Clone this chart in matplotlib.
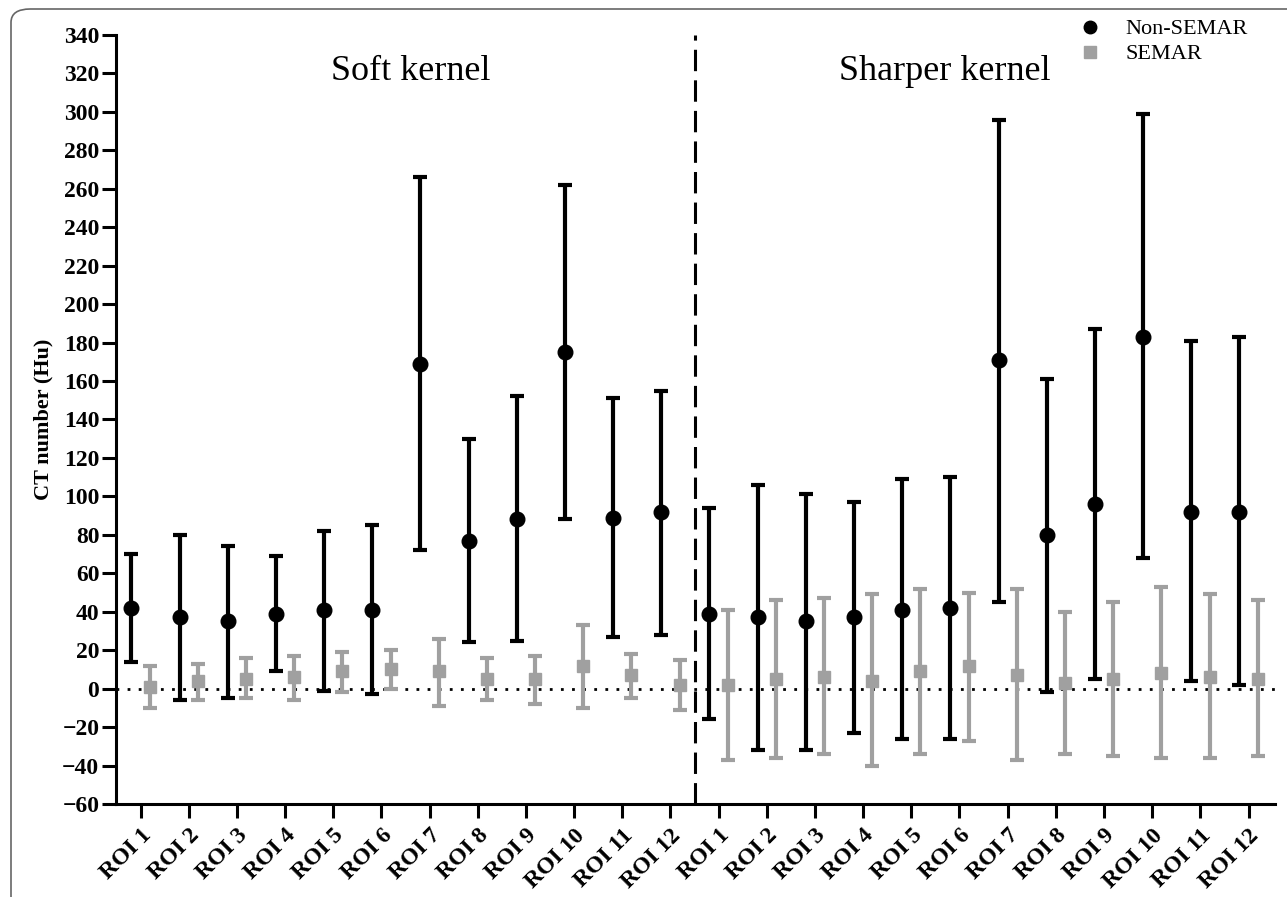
import numpy as np
import matplotlib
matplotlib.use("Agg")
import matplotlib.pyplot as plt
from matplotlib.patches import FancyBboxPatch
from matplotlib.lines import Line2D

plt.rcParams['font.family'] = ['Liberation Serif', 'DejaVu Serif']

rois = ['ROI %d' % i for i in range(1, 13)]
labels = rois + rois

# soft kernel then sharper kernel: mean, upper end, lower end
non_mean = [42, 37, 35, 39, 41, 41, 169, 77, 88, 175, 89, 92,
            39, 37, 35, 37, 41, 42, 171, 80, 96, 183, 92, 92]
non_hi = [70, 80, 74, 69, 82, 85, 266, 130, 152, 262, 151, 155,
          94, 106, 101, 97, 109, 110, 296, 161, 187, 299, 181, 183]
non_lo = [14, -6, -5, 9, -1, -3, 72, 24, 25, 88, 27, 28,
          -16, -32, -32, -23, -26, -26, 45, -2, 5, 68, 4, 2]

semar_mean = [1, 4, 5, 6, 9, 10, 9, 5, 5, 12, 7, 2,
              2, 5, 6, 4, 9, 12, 7, 3, 5, 8, 6, 5]
semar_hi = [12, 13, 16, 17, 19, 20, 26, 16, 17, 33, 18, 15,
            41, 46, 47, 49, 52, 50, 52, 40, 45, 53, 49, 46]
semar_lo = [-10, -6, -5, -6, -2, 0, -9, -6, -8, -10, -5, -11,
            -37, -36, -34, -40, -34, -27, -37, -34, -35, -36, -36, -35]

x = np.arange(len(labels))
gray = '#a0a0a0'

fig = plt.figure(figsize=(12.87, 8.97), dpi=100)
ax = fig.add_axes([0.0901, 0.1037, 0.9006, 0.8573])

# rounded frame, only top and left edges fall inside the picture
frame = FancyBboxPatch((11 / 1287, -0.5), 1.2, 1.5 - 9 / 897,
                       boxstyle="round,pad=0,rounding_size=0.015",
                       transform=fig.transFigure, fill=False,
                       edgecolor='#666666', linewidth=1.2)
fig.patches.append(frame)

nm = np.array(non_mean)
sm = np.array(semar_mean)
ax.errorbar(x - 0.19, nm, yerr=[nm - np.array(non_lo), np.array(non_hi) - nm],
            fmt='o', color='black', ms=10.5, elinewidth=3, capsize=5, capthick=3,
            zorder=3)
ax.errorbar(x + 0.19, sm, yerr=[sm - np.array(semar_lo), np.array(semar_hi) - sm],
            fmt='s', color=gray, ms=9, elinewidth=3, capsize=5, capthick=3,
            zorder=3)

ax.axhline(0, color='black', linestyle=(0, (1, 3)), linewidth=2, zorder=1)
ax.axvline(11.5, color='black', linestyle=(0, (7, 3)), linewidth=2.2, zorder=1)

ax.set_xlim(-0.51, 23.55)
ax.set_ylim(-60, 340)
ax.set_yticks(np.arange(-60, 341, 20))
ax.set_xticks(x)
ax.set_xticklabels(labels, rotation=45, ha='right', rotation_mode='anchor',
                   fontsize=17, fontweight='bold')
for t in ax.get_yticklabels():
    t.set_fontsize(17)
    t.set_fontweight('bold')
ax.tick_params(axis='both', width=2.2, length=10, pad=2)
ax.tick_params(axis='x', pad=5)

for s in ['top', 'right']:
    ax.spines[s].set_visible(False)
for s in ['left', 'bottom']:
    ax.spines[s].set_linewidth(2.2)

ax.set_ylabel('CT number (Hu)', fontsize=16, fontweight='bold', labelpad=6)

ax.text(5.6, 321, 'Soft kernel', fontsize=26, ha='center', va='center')
ax.text(16.7, 321, 'Sharper kernel', fontsize=26, ha='center', va='center')

handles = [Line2D([], [], marker='o', color='black', linestyle='none', ms=9),
           Line2D([], [], marker='s', color=gray, linestyle='none', ms=8)]
ax.legend(handles, ['Non-SEMAR', 'SEMAR'], loc='upper left',
          bbox_to_anchor=(1068 / 1287, 1 - 10 / 897), bbox_transform=fig.transFigure,
          frameon=False, fontsize=16, handlelength=1.2, handletextpad=1.0,
          labelspacing=0.2, borderaxespad=0)

fig.savefig('out.png', dpi=100)
